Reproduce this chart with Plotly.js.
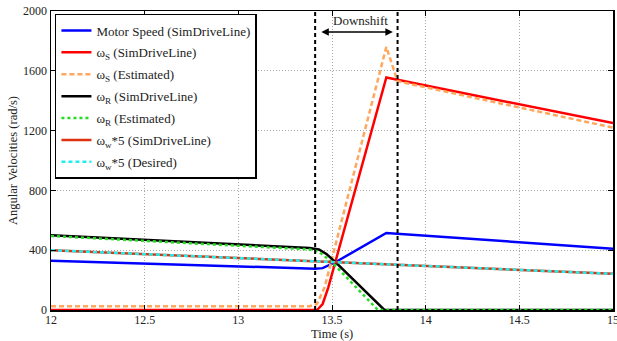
<!DOCTYPE html>
<html>
<head>
<meta charset="utf-8">
<script src="https://cdn.plot.ly/plotly-3.0.1.min.js"></script>
<style>html,body{margin:0;padding:0;background:#fff;}#chart{width:617px;height:341px;}</style>
</head>
<body>
<div id="chart"></div>
<script>
// ---- data ----
const motorT   = [12, 12.5, 13, 13.35, 13.41, 13.45, 13.52, 13.79, 14.5, 15];
const motorV   = [330, 311, 293, 280, 276, 280, 321, 515, 453, 410];

const wsSimT   = [12, 13.42, 13.45, 13.48, 13.79, 15];
const wsSimV   = [0, 0, 40, 150, 1555, 1250];

const wsEstT   = [12, 13.38, 13.42, 13.46, 13.79, 13.85, 15];
const wsEstV   = [25, 25, 40, 150, 1760, 1530, 1220];

const wrSimT   = [12, 13.38, 13.43, 13.47, 13.52, 13.78, 15];
const wrSimV   = [500, 415, 405, 375, 318, 0, 0];

const wrEstT   = [12, 13.38, 13.43, 13.5, 13.745, 15];
const wrEstV   = [495, 405, 390, 320, 0, 0];

const wwSimT   = [12, 13.5, 15];
const wwSimV   = [400, 321, 242];

const wwDesT   = [12, 13.5, 15];
const wwDesV   = [400, 321, 242];

const shiftTimes = [13.41, 13.85];
const shiftLabel = 'Downshift';
const arrowLevel = 1860;
const labelLevel = 1935;

const xTicks = [12, 12.5, 13, 13.5, 14, 14.5, 15];
const yTicks = [0, 400, 800, 1200, 1600, 2000];

const serif = 'Liberation Serif, Times New Roman, serif';

const traces = [
  {x: motorT, y: motorV, name: 'Motor Speed (SimDriveLine)', line: {color: '#0000ff', width: 2.5}},
  {x: wsSimT, y: wsSimV, name: 'ω<sub>S</sub> (SimDriveLine)', line: {color: '#ff0000', width: 2.5}},
  {x: wsEstT, y: wsEstV, name: 'ω<sub>S</sub> (Estimated)', line: {color: '#ffa75c', width: 2.5, dash: '5px,3px'}},
  {x: wrSimT, y: wrSimV, name: 'ω<sub>R</sub> (SimDriveLine)', line: {color: '#000000', width: 2.5}},
  {x: wrEstT, y: wrEstV, name: 'ω<sub>R</sub> (Estimated)', line: {color: '#22dd22', width: 2.5, dash: '3px,3px'}},
  {x: wwSimT, y: wwSimV, name: 'ω<sub>w</sub>*5 (SimDriveLine)', line: {color: '#dd3311', width: 2.5}},
  {x: wwDesT, y: wwDesV, name: 'ω<sub>w</sub>*5 (Desired)', line: {color: '#22eeee', width: 2.5, dash: '4px,3px'}}
].map((t, i) => Object.assign({type: 'scatter', mode: 'lines', hoverinfo: 'skip', legendgroup: 'g' + i}, t));

const shapes = shiftTimes.map(t => ({
  type: 'line', xref: 'x', yref: 'paper', x0: t, x1: t, y0: 0, y1: 1,
  line: {color: '#000', width: 2, dash: '4px,3px'}, layer: 'above'
}));

const axisCommon = {
  showline: true, linecolor: '#000', linewidth: 1.5, mirror: 'ticks',
  ticks: 'inside', ticklen: 5, tickcolor: '#000', tickwidth: 1,
  showgrid: true, gridcolor: '#a8a8a8', griddash: '1px,2px', gridwidth: 1,
  zeroline: false, ticklabeloverflow: 'allow',
  tickfont: {family: serif, size: 12, color: '#222'}
};

const layout = {
  width: 617, height: 341,
  margin: {l: 51, r: 4, t: 11, b: 31},
  paper_bgcolor: '#fff', plot_bgcolor: '#fff',
  font: {family: serif, size: 12, color: '#222'},
  xaxis: Object.assign({}, axisCommon, {
    range: [12, 15], tickvals: xTicks, ticktext: xTicks.map(String), ticklabelstandoff: -2
  }),
  yaxis: Object.assign({}, axisCommon, {
    range: [0, 2000], tickvals: yTicks, ticktext: yTicks.map(String),
    title: {text: 'Angular Velocities (rad/s)', font: {family: serif, size: 12.5, color: '#222'}, standoff: 2}
  }),
  showlegend: true,
  legend: {
    x: 0.007, y: 0.99, xanchor: 'left', yanchor: 'top',
    bgcolor: '#fff', bordercolor: '#000', borderwidth: 1.5,
    font: {family: serif, size: 13, color: '#222'},
    itemwidth: 30, tracegroupgap: 2
  },
  shapes: shapes,
  annotations: [
    {x: shiftTimes[1] - 0.025, y: arrowLevel, ax: shiftTimes[0] + 0.025, ay: arrowLevel,
     xref: 'x', yref: 'y', axref: 'x', ayref: 'y', text: '', showarrow: true,
     arrowhead: 2, startarrowhead: 2, arrowside: 'end+start', arrowsize: 1, arrowwidth: 1.5, arrowcolor: '#000'},
    {x: (shiftTimes[0] + shiftTimes[1]) / 2 + 0.02, y: labelLevel, xref: 'x', yref: 'y', text: shiftLabel,
     showarrow: false, font: {family: serif, size: 13, color: '#222'}},
    {x: 0.5, y: 0, xref: 'paper', yref: 'paper', yanchor: 'top', yshift: -15, text: 'Time (s)',
     showarrow: false, font: {family: serif, size: 12.5, color: '#222'}}
  ]
};

Plotly.newPlot('chart', traces, layout, {displayModeBar: false, staticPlot: true});
</script>
</body>
</html>
